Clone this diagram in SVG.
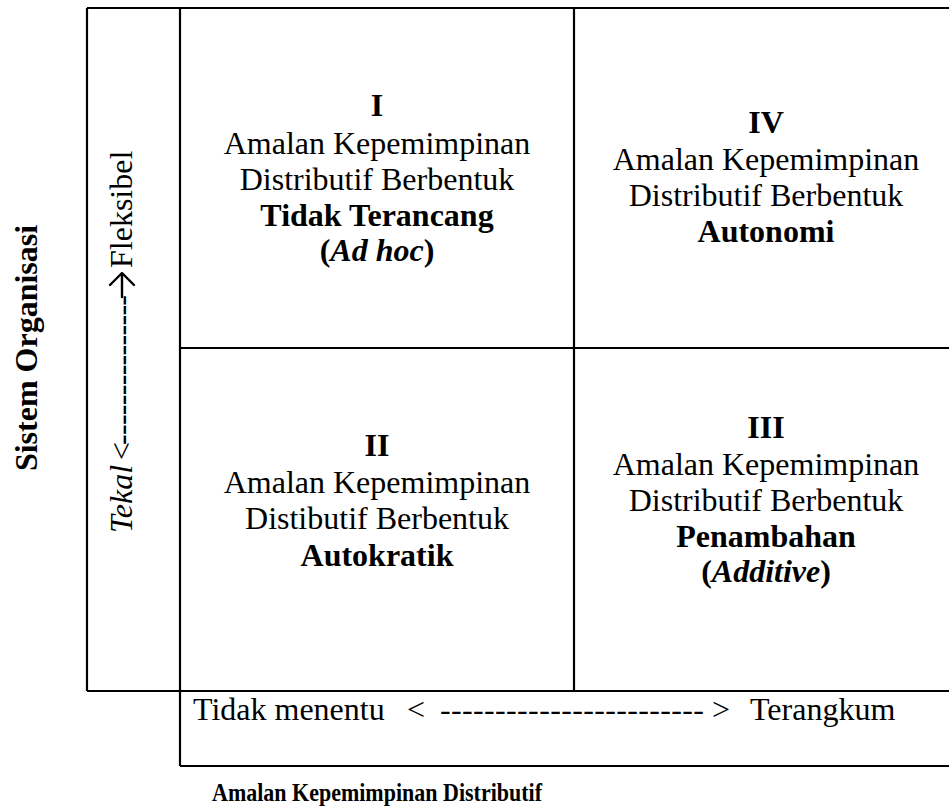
<svg xmlns="http://www.w3.org/2000/svg" width="949" height="809" viewBox="0 0 949 809">
<style>
  .ln { stroke:#000; stroke-width:2.2; fill:none; }
  text { font-family:"Liberation Serif","Times New Roman",serif; font-size:32px; fill:#000; }
  .c { text-anchor:middle; }
  .b { font-weight:bold; }
  .i { font-style:italic; }
  .arr { stroke:#000; stroke-width:2.4; fill:none; stroke-linecap:round; stroke-linejoin:round; }
</style>
<rect x="0" y="0" width="949" height="809" fill="#fff"/>
<g id="grid">
  <line class="ln" x1="87" y1="8" x2="949" y2="8"/>
  <line class="ln" x1="87" y1="8" x2="87" y2="691"/>
  <line class="ln" x1="180" y1="8" x2="180" y2="766"/>
  <line class="ln" x1="574" y1="8" x2="574" y2="691"/>
  <line class="ln" x1="180" y1="348" x2="949" y2="348"/>
  <line class="ln" x1="87" y1="691" x2="949" y2="691"/>
  <line class="ln" x1="180" y1="766" x2="949" y2="766"/>
</g>
<g id="q1">
  <text class="c b" x="377" y="116">I</text>
  <text class="c" x="377" y="154">Amalan Kepemimpinan</text>
  <text class="c" x="377" y="190">Distributif Berbentuk</text>
  <text class="c b" x="377" y="226">Tidak Terancang</text>
  <text class="c b" x="377" y="261">(<tspan class="i">Ad hoc</tspan>)</text>
</g>
<g id="q4">
  <text class="c b" x="766" y="133">IV</text>
  <text class="c" x="766" y="170">Amalan Kepemimpinan</text>
  <text class="c" x="766" y="206">Distributif Berbentuk</text>
  <text class="c b" x="766" y="242">Autonomi</text>
</g>
<g id="q2">
  <text class="c b" x="377" y="456">II</text>
  <text class="c" x="377" y="493">Amalan Kepemimpinan</text>
  <text class="c" x="377" y="529">Distibutif Berbentuk</text>
  <text class="c b" x="377" y="566">Autokratik</text>
</g>
<g id="q3">
  <text class="c b" x="766" y="438">III</text>
  <text class="c" x="766" y="475">Amalan Kepemimpinan</text>
  <text class="c" x="766" y="511">Distributif Berbentuk</text>
  <text class="c b" x="766" y="547">Penambahan</text>
  <text class="c b" x="766" y="582">(<tspan class="i">Additive</tspan>)</text>
</g>
<g id="y-axis" transform="translate(132,533) rotate(-90)">
  <text class="i" x="0" y="0">Tekal</text>
  <text x="73" y="0">&lt;</text>
  <text x="88" y="0" textLength="150" lengthAdjust="spacing">---------------</text>
  <path class="arr" d="M236,-10 L258,-10 M248,-22 L260,-10 L248,2"/>
  <text x="265" y="0">Fleksibel</text>
</g>
<g id="x-axis">
  <text x="193" y="720">Tidak menentu</text>
  <text x="407" y="720">&lt;</text>
  <text x="440" y="720" textLength="264" lengthAdjust="spacing">------------------------</text>
  <text x="712" y="720">&gt;</text>
  <text x="750" y="720">Terangkum</text>
</g>
<g id="titles">
  <text class="b" x="37" y="348" text-anchor="middle" transform="rotate(-90 37 348)" style="font-size:32px">Sistem Organisasi</text>
  <text class="c b" x="377" y="801" style="font-size:26px" textLength="330" lengthAdjust="spacingAndGlyphs">Amalan Kepemimpinan Distributif</text>
</g>
</svg>
